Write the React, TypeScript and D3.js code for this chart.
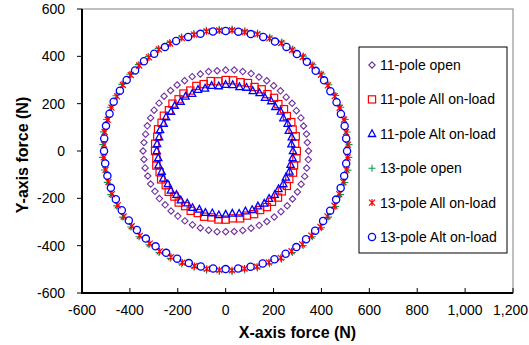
import * as d3 from 'd3';

const angles = [0, 6, 12, 18, 24, 30, 36, 42, 48, 54, 60, 66, 72, 78, 84, 90, 96, 102, 108, 114, 120, 126, 132, 138, 144, 150, 156, 162, 168, 174, 180, 186, 192, 198, 204, 210, 216, 222, 228, 234, 240, 246, 252, 258, 264, 270, 276, 282, 288, 294, 300, 306, 312, 318, 324, 330, 336, 342, 348, 354];
const anglesHalf = [3, 9, 15, 21, 27, 33, 39, 45, 51, 57, 63, 69, 75, 81, 87, 93, 99, 105, 111, 117, 123, 129, 135, 141, 147, 153, 159, 165, 171, 177, 183, 189, 195, 201, 207, 213, 219, 225, 231, 237, 243, 249, 255, 261, 267, 273, 279, 285, 291, 297, 303, 309, 315, 321, 327, 333, 339, 345, 351, 357];

const pole11Open = [346, 343, 345, 342, 344, 341, 343, 340, 342, 341, 343, 342, 344, 343, 344, 342, 341, 343, 342, 344, 343, 345, 344, 346, 344, 345, 343, 344, 342, 343, 345, 343, 344, 342, 343, 341, 342, 340, 341, 340, 341, 341, 342, 342, 343, 341, 342, 343, 343, 344, 344, 345, 345, 346, 345, 346, 345, 347, 346, 347];
const pole11All = [297, 292, 299, 294, 300, 295, 301, 296, 302, 297, 301, 296, 302, 297, 300, 300, 296, 302, 297, 301, 295, 300, 294, 299, 293, 298, 293, 297, 292, 296, 295, 291, 296, 290, 295, 289, 294, 288, 293, 288, 292, 287, 292, 287, 291, 290, 286, 291, 287, 292, 288, 293, 289, 294, 290, 295, 291, 296, 292, 297];
const pole11Alt = [281, 276, 282, 277, 283, 278, 284, 279, 284, 279, 283, 278, 282, 277, 281, 280, 276, 282, 278, 284, 280, 285, 281, 286, 282, 287, 283, 288, 284, 288, 288, 283, 287, 281, 285, 279, 283, 276, 280, 273, 277, 270, 274, 268, 272, 268, 265, 270, 267, 272, 269, 274, 271, 276, 273, 278, 275, 280, 277, 281];
const pole13Open = [516, 514, 517, 515, 516, 514, 517, 515, 516, 514, 517, 515, 516, 514, 516, 515, 517, 514, 516, 515, 517, 514, 516, 515, 517, 514, 516, 515, 517, 514, 515, 513, 512, 514, 511, 513, 510, 512, 510, 511, 509, 511, 509, 510, 510, 511, 509, 512, 510, 513, 511, 514, 512, 515, 513, 516, 514, 515, 517, 515];
const pole13All = [511, 509, 512, 510, 511, 509, 512, 510, 511, 509, 512, 510, 511, 509, 511, 510, 512, 509, 511, 510, 512, 509, 511, 510, 512, 509, 511, 510, 512, 509, 510, 508, 507, 509, 506, 508, 505, 507, 504, 506, 503, 505, 503, 504, 504, 505, 503, 506, 504, 507, 505, 508, 506, 509, 507, 510, 508, 509, 511, 510];
const pole13Alt = [507, 506, 508, 506, 507, 505, 508, 506, 507, 506, 508, 506, 507, 505, 507, 507, 508, 506, 507, 509, 507, 508, 510, 509, 511, 510, 512, 510, 511, 510, 508, 506, 505, 504, 502, 501, 500, 499, 498, 498, 497, 498, 498, 499, 499, 499, 499, 500, 500, 501, 501, 502, 502, 503, 503, 504, 505, 505, 506, 506];

const xTicks = [-600, -400, -200, 0, 200, 400, 600, 800, 1000, 1200];
const yTicks = [-600, -400, -200, 0, 200, 400, 600];

const series = [
  { name: '11-pole open', ang: angles, mag: pole11Open, marker: 'diamond', color: '#7030a0' },
  { name: '11-pole All on-load', ang: angles, mag: pole11All, marker: 'square', color: '#ff0000' },
  { name: '11-pole Alt on-load', ang: angles, mag: pole11Alt, marker: 'triangle', color: '#0000ff' },
  { name: '13-pole open', ang: anglesHalf, mag: pole13Open, marker: 'plus', color: '#00a050' },
  { name: '13-pole All on-load', ang: anglesHalf, mag: pole13All, marker: 'star', color: '#ff0000' },
  { name: '13-pole Alt on-load', ang: angles, mag: pole13Alt, marker: 'circle', color: '#0000ff' },
];

const W = 529, H = 345;
const plot = { left: 82, right: 513, top: 9, bottom: 293 };

const fmt = d3.formatLocale({ decimal: '.', thousands: ',', grouping: [3], currency: ['', ''], minus: '-' }).format(',');

function Marker({ type, x, y, color }: { type: string; x: number; y: number; color: string }) {
  switch (type) {
    case 'diamond':
      return <path d={`M${x},${y - 3.2}L${x + 3.2},${y}L${x},${y + 3.2}L${x - 3.2},${y}Z`} fill="none" stroke={color} strokeWidth={1.1} />;
    case 'square':
      return <rect x={x - 3.6} y={y - 3.6} width={7.2} height={7.2} fill="none" stroke={color} strokeWidth={1.2} />;
    case 'triangle':
      return <path d={`M${x},${y - 4}L${x + 3.6},${y + 2.7}L${x - 3.6},${y + 2.7}Z`} fill="none" stroke={color} strokeWidth={1.3} />;
    case 'plus':
      return <path d={`M${x - 3.5},${y}H${x + 3.5}M${x},${y - 3.5}V${y + 3.5}`} stroke={color} strokeWidth={1.1} />;
    case 'star':
      return <path d={`M${x - 3},${y - 3}L${x + 3},${y + 3}M${x - 3},${y + 3}L${x + 3},${y - 3}M${x},${y - 3.5}V${y + 3.5}`} stroke={color} strokeWidth={1.2} />;
    default:
      return <circle cx={x} cy={y} r={3.6} fill="none" stroke={color} strokeWidth={1.3} />;
  }
}

export default function App() {
  const x = d3.scaleLinear().domain([-600, 1200]).range([plot.left, plot.right]);
  const y = d3.scaleLinear().domain([-600, 600]).range([plot.bottom, plot.top]);
  const font = 'Liberation Sans, Arial, sans-serif';

  const legendX = 359, legendY = 47, legendW = 148, legendH = 206;
  const rowY = d3.scaleLinear().domain([0, 5]).range([65, 237]);

  return (
    <svg width={W} height={H} style={{ position: 'absolute', left: 0, top: 0 }} fontFamily={font}>
      <rect width={W} height={H} fill="#fff" />
      <rect x={plot.left} y={plot.top} width={plot.right - plot.left} height={plot.bottom - plot.top} fill="none" stroke="#808080" strokeWidth={1} />
      <line x1={plot.left} x2={plot.left} y1={plot.top} y2={plot.bottom + 1} stroke="#000" strokeWidth={2} />
      <line x1={plot.left - 1} x2={plot.right} y1={plot.bottom} y2={plot.bottom} stroke="#000" strokeWidth={2} />
      {yTicks.map(t => (
        <g key={'y' + t}>
          <line x1={plot.left - 5} x2={plot.left} y1={y(t)} y2={y(t)} stroke="#000" strokeWidth={1} />
          <text x={plot.left - 17} y={y(t)} dy="0.35em" textAnchor="end" fontSize={14}>{fmt(t)}</text>
        </g>
      ))}
      {xTicks.map((t, i) => {
        const last = i === xTicks.length - 1;
        return (
          <g key={'x' + t}>
            <line x1={x(t)} x2={x(t)} y1={plot.bottom - 5} y2={plot.bottom} stroke="#000" strokeWidth={1} />
            <text x={last ? W - 1 : x(t)} y={plot.bottom + 17} dy="0.35em" textAnchor={last ? 'end' : 'middle'} fontSize={14}>{fmt(t)}</text>
          </g>
        );
      })}
      <text x={(plot.left + plot.right) / 2} y={338} textAnchor="middle" fontSize={16} fontWeight="bold">X-axis force (N)</text>
      <text transform={`translate(28,${(plot.top + plot.bottom) / 2 + 4}) rotate(-90)`} textAnchor="middle" fontSize={16} fontWeight="bold">Y-axis force (N)</text>

      {series.map(s => (
        <g key={s.name}>
          {s.mag.map((m, i) => {
            const a = (s.ang[i] * Math.PI) / 180;
            return <Marker key={i} type={s.marker} x={x(m * Math.cos(a))} y={y(m * Math.sin(a))} color={s.color} />;
          })}
        </g>
      ))}

      <rect x={legendX} y={legendY} width={legendW} height={legendH} fill="#fff" stroke="#000" strokeWidth={1} />
      {series.map((s, i) => (
        <g key={'lg' + s.name}>
          <Marker type={s.marker} x={372} y={rowY(i)} color={s.color} />
          <text x={380} y={rowY(i)} dy="0.35em" fontSize={14}>{s.name}</text>
        </g>
      ))}
    </svg>
  );
}
